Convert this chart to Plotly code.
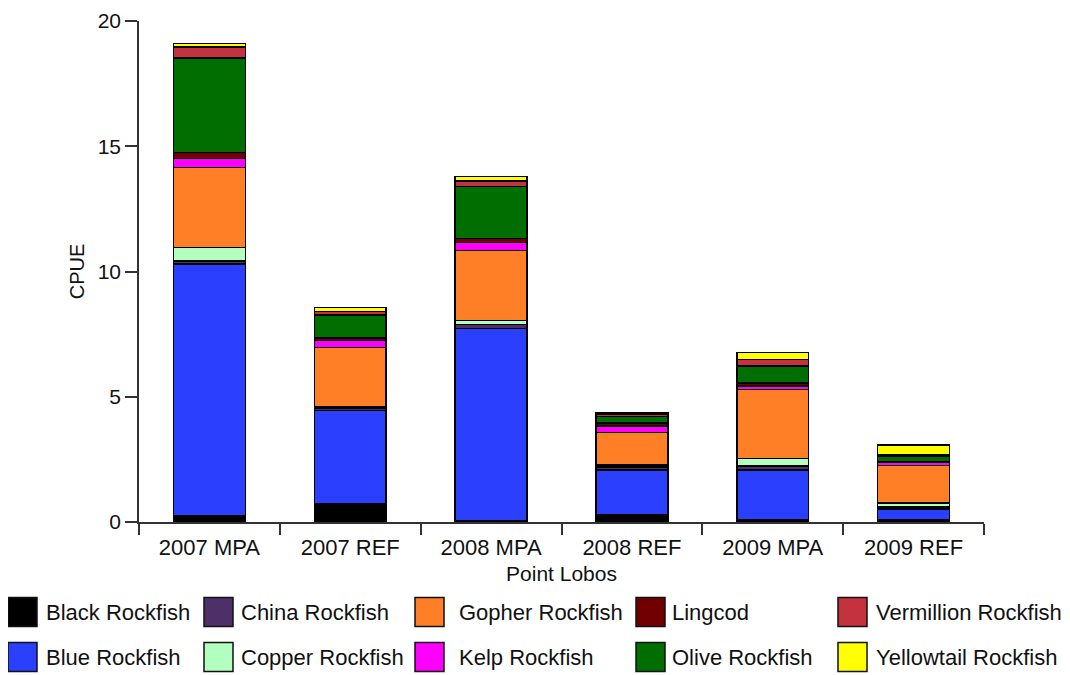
import plotly.graph_objects as go

categories = ["2007 MPA", "2007 REF", "2008 MPA", "2008 REF", "2009 MPA", "2009 REF"]

species = ["Black Rockfish", "Blue Rockfish", "China Rockfish", "Copper Rockfish",
           "Gopher Rockfish", "Kelp Rockfish", "Lingcod", "Olive Rockfish",
           "Vermillion Rockfish", "Yellowtail Rockfish"]

black_rockfish = [0.24, 0.73, 0.05, 0.28, 0.08, 0.08]
blue_rockfish = [10.05, 3.72, 7.67, 1.79, 1.99, 0.43]
china_rockfish = [0.13, 0.10, 0.17, 0.12, 0.16, 0.08]
copper_rockfish = [0.53, 0.06, 0.16, 0.08, 0.31, 0.16]
gopher_rockfish = [3.21, 2.36, 2.79, 1.30, 2.75, 1.50]
kelp_rockfish = [0.36, 0.27, 0.31, 0.26, 0.13, 0.14]
lingcod = [0.24, 0.10, 0.16, 0.13, 0.13, 0.0]
olive_rockfish = [3.76, 0.93, 2.09, 0.25, 0.68, 0.22]
vermillion_rockfish = [0.45, 0.13, 0.21, 0.10, 0.26, 0.06]
yellowtail_rockfish = [0.13, 0.17, 0.19, 0.05, 0.28, 0.40]

series = [black_rockfish, blue_rockfish, china_rockfish, copper_rockfish,
          gopher_rockfish, kelp_rockfish, lingcod, olive_rockfish,
          vermillion_rockfish, yellowtail_rockfish]

colors = ["#000000", "#2b40ff", "#4e3069", "#b3ffbf", "#ff7f27",
          "#ff00ff", "#700000", "#006e00", "#c4323e", "#ffff00"]

FONT = "Liberation Sans, Arial, Helvetica, sans-serif"

fig = go.Figure()
for name, vals, col in zip(species, series, colors):
    fig.add_trace(go.Bar(
        x=categories, y=vals, name=name,
        marker=dict(color=col, line=dict(color="#000000", width=1.5)),
        showlegend=False,
    ))

# page body has an 8px margin: figure is 8px smaller and starts at (8, 8)
OFF = 8
W, H = 1070 - OFF, 675 - OFF
PLOT_L, PLOT_R, PLOT_T, PLOT_B = 139, 984, 21, 522   # page pixels
ML, MR = PLOT_L - OFF, W - (PLOT_R - OFF)
MT, MB = PLOT_T - OFF, H - (PLOT_B - OFF)
PW, PH = W - ML - MR, H - MT - MB


def px2paper(px, py):
    # px, py are page coordinates
    return (px - PLOT_L) / PW, (PLOT_B - py) / PH


# manual legend (column-major, two rows)
col_swatch_x = [8, 204, 415, 636, 838]
col_text_x = [44, 239, 457, 670, 874]
row_y = [612, 657]
sw = 29
shapes = []
annotations = []
for i, (name, col) in enumerate(zip(species, colors)):
    c, r = i // 2, i % 2
    x0, y0 = px2paper(col_swatch_x[c], row_y[r] + sw / 2)
    x1, y1 = px2paper(col_swatch_x[c] + sw, row_y[r] - sw / 2)
    shapes.append(dict(type="rect", xref="paper", yref="paper",
                       x0=x0, y0=y0, x1=x1, y1=y1,
                       fillcolor=col, line=dict(color="#111111", width=1.5)))
    tx, ty = px2paper(col_text_x[c], row_y[r])
    annotations.append(dict(xref="paper", yref="paper", x=tx, y=ty,
                            text=name, showarrow=False, xanchor="left",
                            yanchor="middle",
                            font=dict(family=FONT, size=22, color="#111111")))

fig.update_layout(
    barmode="stack",
    bargap=0.49,
    width=W, height=H,
    margin=dict(l=ML, r=MR, t=MT, b=MB, autoexpand=False),
    plot_bgcolor="white",
    paper_bgcolor="white",
    font=dict(family=FONT, size=22, color="#111111"),
    shapes=shapes,
    annotations=annotations,
    xaxis=dict(
        type="category", automargin=False,
        showline=True, linecolor="#333333", linewidth=1.5,
        ticks="outside", tickson="boundaries", ticklen=11, tickwidth=1.5,
        tickcolor="#333333",
        tickfont=dict(size=22),
        ticklabelstandoff=5,
        title=dict(text="Point Lobos", font=dict(size=21), standoff=7),
        showgrid=False,
    ),
    yaxis=dict(
        range=[0, 20], dtick=5, automargin=False,
        showline=True, linecolor="#333333", linewidth=1.5,
        ticks="outside", ticklen=12, tickwidth=1.5, tickcolor="#333333",
        tickfont=dict(size=21),
        title=dict(text="CPUE", font=dict(size=20), standoff=8),
        showgrid=False, zeroline=False,
    ),
)

fig.write_html("out.html")
